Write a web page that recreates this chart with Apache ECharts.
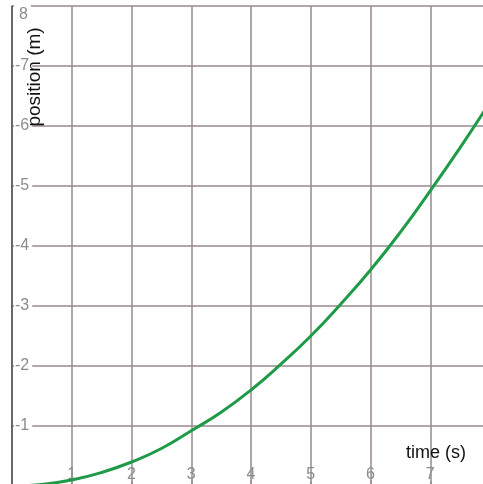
<!DOCTYPE html>
<html>
<head>
<meta charset="utf-8">
<script src="https://cdn.jsdelivr.net/npm/echarts@6/dist/echarts.min.js"></script>
<style>
html,body{margin:0;padding:0;background:#fff;}
#chart{width:483px;height:484px;}
</style>
</head>
<body>
<div id="chart"></div>
<script>
// time (s)
var timeValues = [0, 0.5, 1, 1.5, 2, 2.5, 3, 3.5, 4, 4.5, 5, 5.5, 6, 6.5, 7, 7.5, 8];
// position (m)
var positionValues = [0, 0.025, 0.1, 0.225, 0.4, 0.625, 0.92, 1.23, 1.6, 2.03, 2.5, 3.03, 3.6, 4.23, 4.92, 5.64, 6.4];
var xTicks = [0, 1, 2, 3, 4, 5, 6, 7, 8];
var yTicks = [0, 1, 2, 3, 4, 5, 6, 7, 8];
var xAxisTitle = 'time (s)';
var yAxisTitle = 'position (m)';

var chart = echarts.init(document.getElementById('chart'), null, {renderer: 'canvas'});
var gridColor = '#988a88';
var labelColor = '#8c8c8c';
var fontFam = '"Liberation Sans", Arial, sans-serif';

chart.setOption({
  animation: false,
  backgroundColor: '#ffffff',
  grid: {left: 12, top: 6, width: 478, height: 480, containLabel: false, outerBoundsMode: 'none'},
  xAxis: {
    type: 'value', min: xTicks[0], max: xTicks[xTicks.length - 1], interval: 1,
    axisLine: {show: false},
    axisTick: {show: true, inside: true, length: 5, lineStyle: {color: gridColor, width: 1.5}},
    splitLine: {show: true, lineStyle: {color: gridColor, width: 1.5}},
    axisLabel: {inside: true, margin: 3, color: labelColor, fontSize: 16, fontFamily: fontFam, showMinLabel: false,
      formatter: function (v) { return xTicks.indexOf(v) >= 0 ? String(v) : ''; }}
  },
  yAxis: {
    type: 'value', min: yTicks[0], max: yTicks[yTicks.length - 1], interval: 1,
    axisLine: {show: true, lineStyle: {color: '#555', width: 1.5}},
    axisTick: {show: false},
    splitLine: {show: true, lineStyle: {color: gridColor, width: 1.5}},
    axisLabel: {inside: true, margin: 2, color: labelColor, fontSize: 16, fontFamily: fontFam, showMinLabel: false,
      backgroundColor: '#fff', padding: [0, 3, 0, 1],
      formatter: function (v) { return v === yTicks[yTicks.length - 1] ? '{top|' + v + '}' : '-' + v; },
      rich: {top: {color: labelColor, fontSize: 16, fontFamily: fontFam, padding: [18, 0, 0, 4], backgroundColor: 'transparent'}}}
  },
  graphic: [
    {type: 'text', x: 35, y: 77, rotation: Math.PI / 2, z: 100,
      style: {text: yAxisTitle, fill: '#111', font: '19px ' + fontFam, textAlign: 'center', textVerticalAlign: 'middle'}},
    {type: 'text', x: 436, y: 453, z: 100,
      style: {text: xAxisTitle, fill: '#111', font: '18px ' + fontFam, textAlign: 'center', textVerticalAlign: 'middle'}}
  ],
  series: [{
    type: 'line', smooth: true, showSymbol: false,
    data: timeValues.map(function (t, i) { return [t, positionValues[i]]; }),
    lineStyle: {color: '#1f9a48', width: 3},
    z: 10
  }]
});
</script>
</body>
</html>
